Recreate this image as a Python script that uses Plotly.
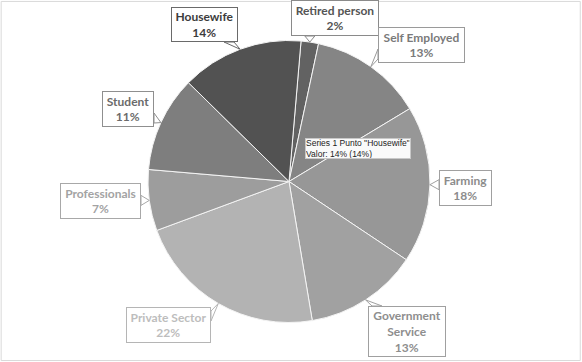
import math
import plotly.graph_objects as go

# ---- data ----
categories = ["Retired person", "Self Employed", "Farming", "Government<br>Service",
              "Private Sector", "Professionals", "Student", "Housewife"]
values = [2, 13, 18, 13, 22, 7, 11, 14]
pct_labels = ["2%", "13%", "18%", "13%", "22%", "7%", "11%", "14%"]
tooltip_lines = ['Series 1 Punto "Housewife"', "Valor: 14% (14%)"]

# ---- styles ----
slice_colors = ["#626262", "#858585", "#979797", "#a1a1a1",
                "#b3b3b3", "#9d9d9d", "#7e7e7e", "#525252"]
text_colors = ["#555555", "#7a7a7a", "#8c8c8c", "#8e8e8e",
               "#bdbdbd", "#a3a3a3", "#6b6b6b", "#3c3c3c"]
border_colors = ["#8a8a8a", "#9a9a9a", "#a0a0a0", "#a0a0a0",
                 "#b5b5b5", "#a8a8a8", "#8f8f8f", "#6a6a6a"]
# label boxes in pixel coords: x0, y0, x1, y1
boxes = [(291, 0, 379, 36), (378, 27, 465, 63), (439, 170, 492, 206),
         (368, 306, 446, 357), (126, 307, 211, 343), (60, 183, 141, 219),
         (102, 91, 154, 127), (171, 7, 238, 42)]

W, H = 582, 362
CX, CY, R = 289.0, 181.5, 141.0
ROT = 4.9

def px2paper(x, y):
    return x / W, 1 - y / H

fig = go.Figure(go.Pie(
    labels=categories, values=values, sort=False, direction="clockwise",
    rotation=ROT, textinfo="none", hoverinfo="skip", showlegend=False,
    marker=dict(colors=slice_colors, line=dict(color="#f4f4f4", width=1)),
    domain=dict(x=[(CX - R) / W, (CX + R) / W], y=[1 - (CY + R) / H, 1 - (CY - R) / H]),
))

shapes = []
annotations = []
total = sum(values)
cum = 0.0
for i, v in enumerate(values):
    mid = ROT + (cum + v / 2) / total * 360
    cum += v
    th = math.radians(mid)
    tx, ty = CX + R * math.sin(th), CY - R * math.cos(th)
    x0, y0, x1, y1 = boxes[i]
    # wedge base on nearest box edge
    dxo = max(x0 - tx, 0, tx - x1)
    dyo = max(y0 - ty, 0, ty - y1)
    if dyo >= dxo:
        ey = y1 if ty > y1 else y0
        bx = min(max(tx, x0 + 9), x1 - 9)
        b1, b2 = (bx - 5, ey), (bx + 5, ey)
    else:
        ex = x1 if tx > x1 else x0
        by = min(max(ty, y0 + 9), y1 - 9)
        b1, b2 = (ex, by - 5), (ex, by + 5)
    p1 = px2paper(*b1); p2 = px2paper(*b2); pt = px2paper(tx, ty)
    shapes.append(dict(type="path", xref="paper", yref="paper",
                       path=f"M{p1[0]},{p1[1]} L{pt[0]},{pt[1]} L{p2[0]},{p2[1]} Z",
                       fillcolor="white", line=dict(color=border_colors[i], width=1),
                       layer="above"))
    cxp, cyp = px2paper((x0 + x1) / 2, (y0 + y1) / 2)
    annotations.append(dict(
        x=cxp, y=cyp, xref="paper", yref="paper", xanchor="center", yanchor="middle",
        text=f"<b>{categories[i]}<br>{pct_labels[i]}</b>", showarrow=False,
        font=dict(family="Lato", size=12, color=text_colors[i]),
        align="center", bgcolor="white", bordercolor=border_colors[i],
        borderwidth=1, borderpad=0, width=x1 - x0 - 2, height=y1 - y0 - 2))

# tooltip
tx0, ty0, tx1, ty1 = 305.5, 138, 411, 159
tcx, tcy = px2paper((tx0 + tx1) / 2, (ty0 + ty1) / 2)
annotations.append(dict(
    x=tcx, y=tcy, xref="paper", yref="paper", xanchor="center", yanchor="middle",
    text="<br>".join(tooltip_lines), showarrow=False, align="left",
    font=dict(family="Liberation Sans", size=8.5, color="#222222"),
    bgcolor="rgba(255,255,255,0.95)", bordercolor="#c8c8c8", borderwidth=1,
    borderpad=0, width=tx1 - tx0 - 2, height=ty1 - ty0 - 2))

# chart frame
shapes.append(dict(type="rect", xref="paper", yref="paper", x0=0.002, y0=0.004,
                   x1=0.997, y1=0.996, line=dict(color="#d9d9d9", width=1)))

fig.update_layout(width=W, height=H, margin=dict(l=0, r=0, t=0, b=0),
                  paper_bgcolor="white", plot_bgcolor="white",
                  shapes=shapes, annotations=annotations)
fig.write_html("out.html", config={"displayModeBar": False},
               post_script="document.body.style.margin='0px';document.body.style.padding='0px';")
